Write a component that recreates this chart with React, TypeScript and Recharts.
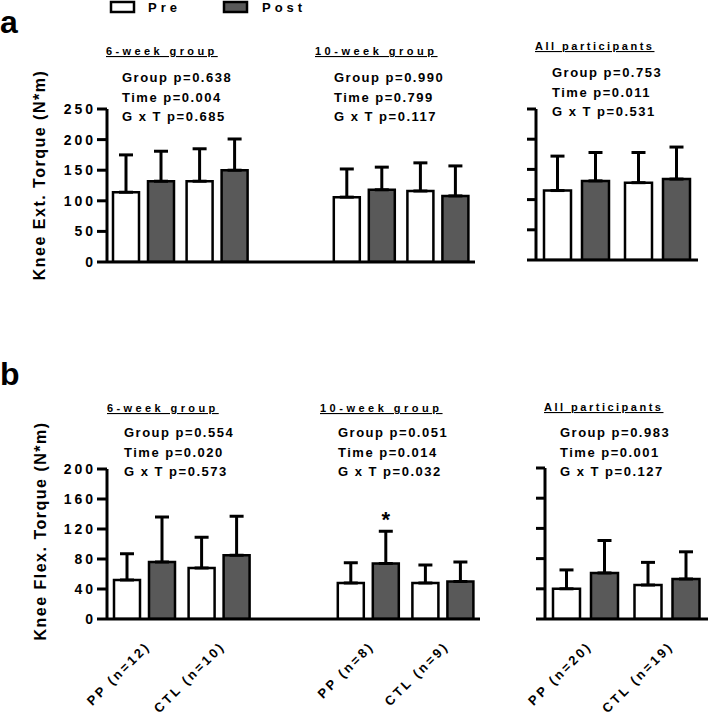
import React from "react";
import { BarChart, Bar, XAxis, YAxis, ErrorBar, LabelList } from "recharts";

const FONT = '"Liberation Sans", Arial, Helvetica, sans-serif';
const POST_FILL = "#595959";

// ─── Data ──────────────────────────────────────────────────────
// the empty category keeps the gap between the 6-week and 10-week groups
const leftGroups = ["PP (n=12)", "CTL (n=10)", "", "PP (n=8)", "CTL (n=9)"];
const allGroups = ["PP (n=20)", "CTL (n=19)"];

// knee extension torque (N*m), mean and SD
const extLeftPre = [114, 132, null, 106, 116];
const extLeftPreSd = [61, 53, null, 46, 46];
const extLeftPost = [132, 150, null, 118, 108];
const extLeftPostSd = [49, 51, null, 37, 49];
const extAllPre = [115, 128];
const extAllPreSd = [57, 50];
const extAllPost = [131, 134];
const extAllPostSd = [47, 53];

// knee flexion torque (N*m), mean and SD
const flexLeftPre = [52, 68, null, 48, 48];
const flexLeftPreSd = [35, 41, null, 27, 24];
const flexLeftPost = [76, 85, null, 74, 50];
const flexLeftPostSd = [60, 52, null, 43, 26];
const flexLeftSig = ["", "", "", "*", ""];
const flexAllPre = [40, 45];
const flexAllPreSd = [25, 30];
const flexAllPost = [61, 53];
const flexAllPostSd = [43, 36];

const extTicks = [0, 50, 100, 150, 200, 250];
const flexTicks = [0, 40, 80, 120, 160, 200];

const extStats6 = ["Group p=0.638", "Time p=0.004", "G x T p=0.685"];
const extStats10 = ["Group p=0.990", "Time p=0.799", "G x T p=0.117"];
const extStatsAll = ["Group p=0.753", "Time p=0.011", "G x T p=0.531"];
const flexStats6 = ["Group p=0.554", "Time p=0.020", "G x T p=0.573"];
const flexStats10 = ["Group p=0.051", "Time p=0.014", "G x T p=0.032"];
const flexStatsAll = ["Group p=0.983", "Time p=0.001", "G x T p=0.127"];

function buildRows(
  cats: string[],
  pre: (number | null)[],
  preSd: (number | null)[],
  post: (number | null)[],
  postSd: (number | null)[],
  sig?: string[]
) {
  return cats.map((name, i) => ({
    name,
    pre: pre[i],
    post: post[i],
    preErr: pre[i] == null ? null : [0, preSd[i]],
    postErr: post[i] == null ? null : [0, postSd[i]],
    // invisible segment stacked on the post bar up to the SD whisker, carries the star
    sigGap: sig && sig[i] ? postSd[i] : null,
    sig: sig && sig[i] ? sig[i] : null,
  }));
}

const extLeftRows = buildRows(leftGroups, extLeftPre, extLeftPreSd, extLeftPost, extLeftPostSd);
const extAllRows = buildRows(allGroups, extAllPre, extAllPreSd, extAllPost, extAllPostSd);
const flexLeftRows = buildRows(leftGroups, flexLeftPre, flexLeftPreSd, flexLeftPost, flexLeftPostSd, flexLeftSig);
const flexAllRows = buildRows(allGroups, flexAllPre, flexAllPreSd, flexAllPost, flexAllPostSd);

// ─── Pieces ────────────────────────────────────────────────────

const AXIS = { stroke: "#000", strokeWidth: 3 };

function AngledTick(props: any) {
  const { x, y, payload } = props;
  if (!payload || !payload.value) return null;
  const ax = x + 7;
  const ay = y + 28;
  return (
    <text
      x={ax}
      y={ay}
      textAnchor="end"
      transform={`rotate(-45, ${ax}, ${ay})`}
      fontFamily={FONT}
      fontSize={13}
      fontWeight={700}
      letterSpacing={2.7}
      fill="#000"
    >
      {payload.value}
    </text>
  );
}

// keeps the tick marks but draws no tick text
function NoTickText() {
  return <g />;
}

interface GroupChartProps {
  data: any[];
  left: number;
  top: number;
  width: number;
  height: number;
  margin: { top: number; right: number; bottom: number; left: number };
  yWidth: number;
  ticks: number[];
  tickLabels: boolean;
  xLabels: boolean;
  barSize: number;
  barGap: number;
  star?: boolean;
}

function GroupChart({
  data,
  left,
  top,
  width,
  height,
  margin,
  yWidth,
  ticks,
  tickLabels,
  xLabels,
  barSize,
  barGap,
  star = false,
}: GroupChartProps) {
  return (
    <div style={{ position: "absolute", left, top, width, height }}>
      <BarChart width={width} height={height} data={data} margin={margin} barGap={barGap}>
        <XAxis
          dataKey="name"
          axisLine={AXIS}
          tickLine={false}
          tickSize={0}
          tickMargin={0}
          interval={0}
          height={xLabels ? 96 : 1}
          tick={xLabels ? <AngledTick /> : false}
        />
        <YAxis
          width={yWidth}
          domain={[0, ticks[ticks.length - 1]]}
          allowDataOverflow
          ticks={ticks}
          interval={0}
          axisLine={AXIS}
          tickLine={AXIS}
          tickSize={tickLabels ? 10 : 9}
          tickMargin={1}
          tick={
            tickLabels
              ? { fill: "#000", fontSize: 14, fontWeight: 700, fontFamily: FONT, letterSpacing: 3 }
              : <NoTickText />
          }
        />
        <Bar
          dataKey="pre"
          stackId="pre"
          fill="#fff"
          stroke="#000"
          strokeWidth={2.5}
          barSize={barSize}
          isAnimationActive={false}
        >
          <ErrorBar dataKey="preErr" width={7} stroke="#000" strokeWidth={3} direction="y" />
        </Bar>
        <Bar
          dataKey="post"
          stackId="post"
          fill={POST_FILL}
          stroke="#000"
          strokeWidth={2.5}
          barSize={barSize}
          isAnimationActive={false}
        >
          <ErrorBar dataKey="postErr" width={7} stroke="#000" strokeWidth={3} direction="y" />
        </Bar>
        {star && (
          <Bar
            dataKey="sigGap"
            stackId="post"
            fill="none"
            stroke="none"
            barSize={barSize}
            isAnimationActive={false}
          >
            <LabelList
              dataKey="sig"
              position="top"
              offset={4}
              fill="#000"
              fontSize={22}
              fontWeight={700}
              fontFamily={FONT}
            />
          </Bar>
        )}
      </BarChart>
    </div>
  );
}

function StatLines({ x, y, lines }: { x: number; y: number; lines: string[] }) {
  return (
    <>
      {lines.map((t, i) => (
        <text
          key={t}
          x={x}
          y={y + i * 19.5}
          fontSize={13}
          fontWeight={700}
          letterSpacing={1.5}
          fill="#000"
        >
          {t}
        </text>
      ))}
    </>
  );
}

function Title({ x, y, text, spacing }: { x: number; y: number; text: string; spacing: number }) {
  return (
    <text
      x={x}
      y={y}
      fontSize={11}
      fontWeight={700}
      letterSpacing={spacing}
      style={{ textDecoration: "underline" }}
      fill="#000"
    >
      {text}
    </text>
  );
}

export default function App() {
  return (
    <div
      style={{
        position: "absolute",
        left: 0,
        top: 0,
        width: 709,
        height: 715,
        background: "#fff",
        fontFamily: FONT,
        overflow: "hidden",
      }}
    >
      {/* a: knee extension */}
      <GroupChart
        data={extLeftRows}
        left={0}
        top={0}
        width={490}
        height={280}
        margin={{ top: 109, right: 15, bottom: 17, left: 0 }}
        yWidth={107}
        ticks={extTicks}
        tickLabels
        xLabels={false}
        barSize={26}
        barGap={9}
      />
      <GroupChart
        data={extAllRows}
        left={500}
        top={0}
        width={209}
        height={280}
        margin={{ top: 109, right: 11, bottom: 19, left: 0 }}
        yWidth={36}
        ticks={extTicks}
        tickLabels={false}
        xLabels={false}
        barSize={27}
        barGap={11}
      />

      {/* b: knee flexion */}
      <GroupChart
        data={flexLeftRows}
        left={0}
        top={380}
        width={500}
        height={335}
        margin={{ top: 89, right: 20, bottom: 0, left: 0 }}
        yWidth={107}
        ticks={flexTicks}
        tickLabels
        xLabels
        barSize={26}
        barGap={9}
        star
      />
      <GroupChart
        data={flexAllRows}
        left={505}
        top={380}
        width={204}
        height={335}
        margin={{ top: 88, right: 1, bottom: 0, left: 0 }}
        yWidth={40}
        ticks={flexTicks}
        tickLabels={false}
        xLabels
        barSize={27}
        barGap={11}
      />

      <svg
        width={709}
        height={715}
        style={{ position: "absolute", left: 0, top: 0, pointerEvents: "none" }}
        fontFamily={FONT}
      >
        {/* legend */}
        <rect x={111} y={2} width={23} height={10} fill="#fff" stroke="#000" strokeWidth={2.5} />
        <text x={148} y={12} fontSize={13} fontWeight={700} letterSpacing={4} fill="#000">
          Pre
        </text>
        <rect x={224} y={2} width={23} height={10} fill={POST_FILL} stroke="#000" strokeWidth={2.5} />
        <text x={262} y={12} fontSize={13} fontWeight={700} letterSpacing={4} fill="#000">
          Post
        </text>

        {/* panel letters */}
        <text x={0} y={33} fontSize={32} fontWeight={700} fill="#000">
          a
        </text>
        <text x={0} y={385} fontSize={32} fontWeight={700} fill="#000">
          b
        </text>

        {/* axis titles */}
        <text
          x={45}
          y={175}
          textAnchor="middle"
          transform="rotate(-90, 45, 175)"
          fontSize={16}
          fontWeight={700}
          letterSpacing={1.5}
          fill="#000"
        >
          Knee Ext. Torque (N*m)
        </text>
        <text
          x={46}
          y={531}
          textAnchor="middle"
          transform="rotate(-90, 46, 531)"
          fontSize={16}
          fontWeight={700}
          letterSpacing={1.5}
          fill="#000"
        >
          Knee Flex. Torque (N*m)
        </text>

        {/* group titles and stats, panel a */}
        <Title x={106} y={55} text="6-week group" spacing={3.4} />
        <Title x={315} y={55} text="10-week group" spacing={3.5} />
        <Title x={535} y={50} text="All participants" spacing={2.5} />
        <StatLines x={122} y={82} lines={extStats6} />
        <StatLines x={334} y={82} lines={extStats10} />
        <StatLines x={552} y={77} lines={extStatsAll} />

        {/* group titles and stats, panel b */}
        <Title x={107} y={412} text="6-week group" spacing={3.4} />
        <Title x={320} y={412} text="10-week group" spacing={3.5} />
        <Title x={544} y={411} text="All participants" spacing={2.5} />
        <StatLines x={124} y={437} lines={flexStats6} />
        <StatLines x={338} y={437} lines={flexStats10} />
        <StatLines x={560} y={437} lines={flexStatsAll} />
      </svg>
    </div>
  );
}
